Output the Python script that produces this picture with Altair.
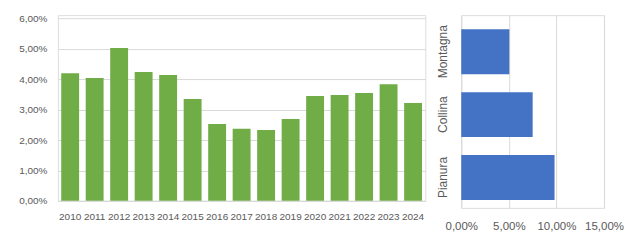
import altair as alt
import pandas as pd

years = [str(y) for y in range(2010, 2025)]
year_values = [4.20, 4.04, 5.03, 4.24, 4.14, 3.35, 2.53, 2.37, 2.33, 2.69, 3.45, 3.48, 3.55, 3.84, 3.22]

zones = ["Montagna", "Collina", "Pianura"]
zone_values = [5.05, 7.50, 9.80]

df_years = pd.DataFrame({"anno": years, "valore": year_values})
df_zones = pd.DataFrame({"zona": zones, "valore": zone_values})

FONT = "Liberation Sans"
LABEL = "#595959"
GRID = "#D9D9D9"
pct_expr = "replace(format(datum.value, '.2f'), '.', ',') + '%'"

left = alt.Chart(df_years).mark_bar(color="#70AD47").encode(
    x=alt.X("anno:N", sort=years, title=None,
            scale=alt.Scale(paddingInner=0.27, paddingOuter=0.135),
            axis=alt.Axis(labelAngle=0, ticks=False, domain=True, domainColor=GRID,
                          labelPadding=11, labelFontSize=10, labelColor=LABEL,
                          labelFont=FONT, grid=False)),
    y=alt.Y("valore:Q", title=None,
            scale=alt.Scale(domain=[0, 6.11], nice=False),
            axis=alt.Axis(values=[0, 1, 2, 3, 4, 5, 6], labelExpr=pct_expr, ticks=False,
                          domain=False, gridColor=GRID, labelPadding=11,
                          labelFontSize=10, labelColor=LABEL, labelFont=FONT,
                          minExtent=40, maxExtent=40)),
).properties(width=368, height=186)

right = alt.Chart(df_zones).mark_bar(color="#4472C4").encode(
    y=alt.Y("zona:N", sort=zones, title=None,
            scale=alt.Scale(paddingInner=0.286, paddingOuter=0.175, align=0.64),
            axis=alt.Axis(labelAngle=270, labelAlign="center", labelBaseline="bottom",
                          ticks=False, domain=False, labelPadding=12,
                          labelFontSize=12, labelColor=LABEL, labelFont=FONT,
                          minExtent=25, maxExtent=25, grid=False)),
    x=alt.X("valore:Q", title=None,
            scale=alt.Scale(domain=[0, 15], nice=False),
            axis=alt.Axis(values=[0, 5, 10, 15], labelExpr=pct_expr, ticks=False,
                          domain=False, gridColor=GRID, labelPadding=13,
                          labelOverlap=False, labelFlush=False,
                          labelFontSize=11.5, labelColor=LABEL, labelFont=FONT)),
).properties(width=143, height=193)

chart = alt.hconcat(left, right, spacing=36, bounds="flush").properties(
    padding={"left": 17, "top": 12, "right": 5, "bottom": 3}
).configure_view(strokeWidth=0).configure(background="white")

chart.save("out.html", embed_options={"renderer": "svg", "actions": False})
